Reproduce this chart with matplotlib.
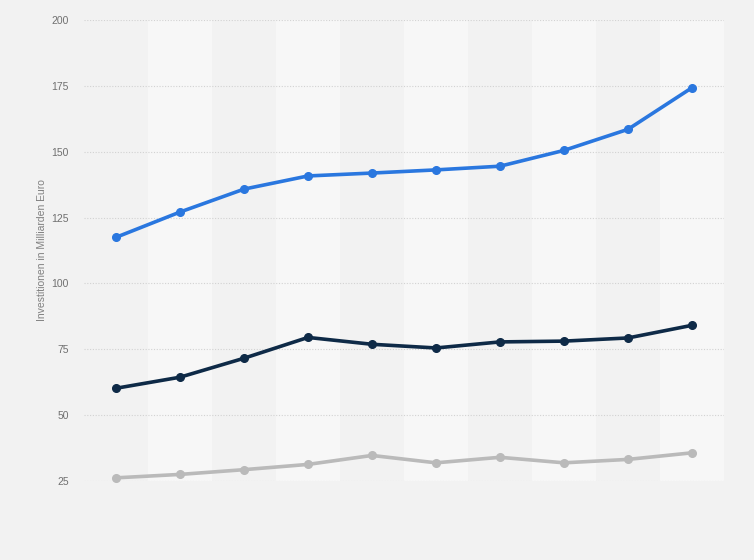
import matplotlib.pyplot as plt
import numpy as np

# values (Mrd. Euro)
years = list(range(10))
blue_values = [117.5, 127.1, 135.8, 140.8, 141.9, 143.1, 144.5, 150.5, 158.5, 174.3]
navy_values = [60.2, 64.4, 71.6, 79.5, 76.9, 75.5, 77.8, 78.1, 79.3, 84.1]
gray_values = [26.2, 27.5, 29.3, 31.3, 34.7, 31.9, 34.0, 31.9, 33.2, 35.7]
y_ticks = [25, 50, 75, 100, 125, 150, 175, 200]

bg = '#f2f2f2'
fig = plt.figure(figsize=(7.54, 5.60), dpi=100, facecolor=bg)
ax = fig.add_axes([84 / 754, 1 - 481 / 560, 640 / 754, 461 / 560])
ax.set_facecolor(bg)

# alternating column bands
for i in years:
    if i % 2 == 1:
        ax.axvspan(i - 0.5, i + 0.5, color='#f7f7f7', lw=0, zorder=0)

for y in y_ticks:
    ax.axhline(y, color='#d2d2d2', lw=0.8, ls=(0, (1, 1.5)), zorder=1)

ax.plot(years, gray_values, color='#bababa', lw=2.6, marker='o', ms=5.5, zorder=3, clip_on=False)
ax.plot(years, navy_values, color='#0e2a47', lw=2.6, marker='o', ms=5.5, zorder=3, clip_on=False)
ax.plot(years, blue_values, color='#2a77df', lw=2.6, marker='o', ms=5.5, zorder=3, clip_on=False)

ax.set_xlim(-0.5, 9.5)
ax.set_ylim(25, 200)
ax.set_xticks([])
ax.set_yticks(y_ticks)
ax.set_yticklabels([str(v) for v in y_ticks], fontsize=7.5, color='#707070', family='Liberation Sans')
ax.tick_params(axis='y', length=0, pad=11)
for s in ax.spines.values():
    s.set_visible(False)

ax.set_ylabel('Investitionen in Milliarden Euro', fontsize=7.5, color='#808080',
              family='Liberation Sans')
ax.yaxis.set_label_coords(-0.058, 0.5)

fig.savefig('out.png', dpi=100, facecolor=bg)
